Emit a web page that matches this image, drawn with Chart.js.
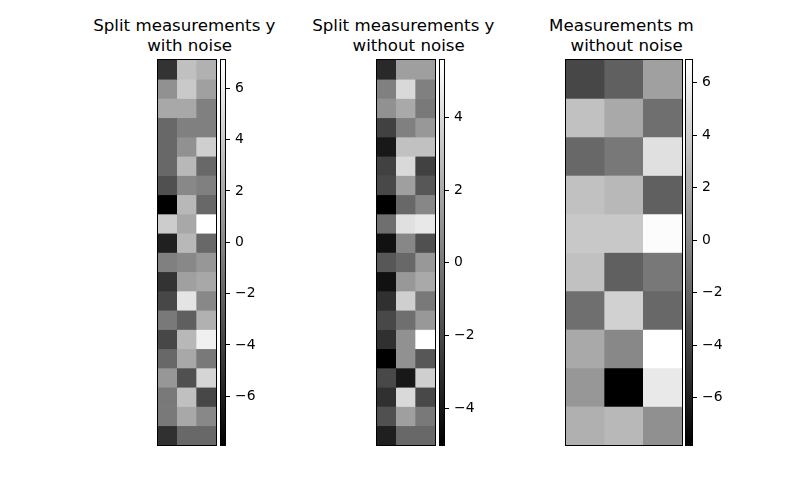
<!DOCTYPE html>
<html>
<head>
<meta charset="utf-8">
<script src="https://cdn.jsdelivr.net/npm/chart.js"></script>
<style>
body { margin: 0; background: #fff; }
#fig { position: relative; width: 800px; height: 500px; overflow: hidden; }
.box { position: absolute; }
.title { position: absolute; width: 300px; top: 16px; text-align: center; white-space: pre;
  font-family: 'DejaVu Sans'; font-size: 16.67px; line-height: 20px; color: #000; }
</style>
</head>
<body>
<div id="fig"></div>
<script>
// values, one row per line (top to bottom)
const yWithNoise = [
  [-4.9, 3.4, 2.5], [0.6, 3.9, 1.5], [2.0, 2.0, -0.4], [-1.8, -0.4, -0.4],
  [-1.8, 0.6, 4.3], [-1.8, 2.9, -1.8], [-3.2, 0.1, -0.4], [-7.9, 2.9, -1.8],
  [4.1, 2.0, 7.1], [-6.0, 2.9, -1.8], [-0.4, 0.1, 1.0], [-4.9, 1.5, 2.0],
  [-3.7, 5.5, 0.1], [-0.8, -2.3, 2.5], [-3.7, 2.9, 6.2], [-1.8, 2.0, -0.8],
  [1.0, -3.2, 4.6], [-0.8, 3.4, -3.7], [-0.8, 2.0, 0.1], [-5.1, -1.8, -1.8]
];
const yWithoutNoise = [
  [-3.3, 1.6, 1.6], [0.3, 4.0, 0.3], [1.0, 2.0, 0.0], [-2.3, 0.3, 1.3],
  [-4.0, 3.0, 3.0], [-2.3, 4.0, -2.3], [-2.0, 1.6, -1.4], [-5.0, -0.7, 0.6],
  [-0.4, 4.3, 4.6], [-4.3, 0.6, -1.7], [-1.4, -0.7, 1.3], [-4.3, 1.3, 2.0],
  [-3.0, 3.6, 0.0], [-2.0, -0.4, 1.3], [-3.0, 1.0, 5.57], [-5.0, 1.0, -1.4],
  [-2.0, -4.0, 3.6], [-3.0, 4.0, -2.0], [-1.7, 1.6, 0.0], [-3.7, -0.7, -0.7]
];
const mWithoutNoise = [
  [-3.7, -2.3, 1.4], [3.3, 1.9, -1.4], [-1.8, -0.9, 5.1], [3.3, 2.8, -2.3],
  [3.7, 3.7, 6.7], [3.3, -2.3, -0.9], [-1.4, 4.2, -1.8], [1.9, 0.0, 6.87],
  [0.9, -7.8, 5.6], [2.3, 2.8, 0.5]
];
const ticksA = [-6, -4, -2, 0, 2, 4, 6];
const ticksB = [-4, -2, 0, 2, 4];
const ticksC = [-6, -4, -2, 0, 2, 4, 6];

const panels = [
  { rows: yWithNoise, ticks: ticksA, title: 'Split measurements y \n with noise', x0: 158, x1: 216, c0: 221, c1: 225 },
  { rows: yWithoutNoise, ticks: ticksB, title: 'Split measurements y \n without noise', x0: 377, x1: 435, c0: 440, c1: 444 },
  { rows: mWithoutNoise, ticks: ticksC, title: 'Measurements m \n without noise', x0: 566, x1: 682, c0: 686, c1: 692 }
];
const axTop = 60, axBottom = 445;

const outline = {
  id: 'outline',
  afterDraw(chart) {
    const a = chart.chartArea, c = chart.ctx;
    c.save();
    c.strokeStyle = '#000';
    c.lineWidth = 1;
    c.strokeRect(Math.round(a.left) - 0.5, Math.round(a.top) - 0.5,
      Math.round(a.right - a.left) + 1, Math.round(a.bottom - a.top) + 1);
    c.restore();
  }
};

const fig = document.getElementById('fig');
function makeBox(left, tp, w, h) {
  const d = document.createElement('div');
  d.className = 'box';
  d.style.left = left + 'px'; d.style.top = tp + 'px';
  d.style.width = w + 'px'; d.style.height = h + 'px';
  const cv = document.createElement('canvas');
  d.appendChild(cv);
  fig.appendChild(d);
  return cv;
}

function heatmap(el, rows) {
  const flat = rows.flat();
  const lo = Math.min(...flat), hi = Math.max(...flat);
  const gray = v => {
    const g = Math.round((v - lo) / (hi - lo) * 255);
    return `rgb(${g},${g},${g})`;
  };
  new Chart(el, {
    type: 'bar',
    data: {
      labels: rows[0].map((_, j) => j),
      datasets: rows.map(r => ({
        data: r.map(() => 1),
        backgroundColor: r.map(gray),
        borderWidth: 0,
        barPercentage: 1,
        categoryPercentage: 1
      }))
    },
    options: {
      responsive: true,
      maintainAspectRatio: false,
      animation: false,
      events: [],
      layout: { padding: 2 },
      plugins: { legend: { display: false }, tooltip: { enabled: false } },
      scales: {
        x: { display: false, stacked: true },
        y: { display: false, stacked: true, min: 0, max: rows.length, reverse: true }
      }
    },
    plugins: [outline]
  });
}

function colorbar(el, rows, tickVals) {
  const flat = rows.flat();
  const lo = Math.min(...flat), hi = Math.max(...flat);
  new Chart(el, {
    type: 'bar',
    data: {
      labels: [''],
      datasets: [{
        data: [[lo, hi]],
        backgroundColor: ctx => {
          const a = ctx.chart.chartArea;
          if (!a) return '#808080';
          const g = ctx.chart.ctx.createLinearGradient(0, a.bottom, 0, a.top);
          g.addColorStop(0, '#000');
          g.addColorStop(1, '#fff');
          return g;
        },
        borderWidth: 0,
        barPercentage: 1,
        categoryPercentage: 1
      }]
    },
    options: {
      responsive: true,
      maintainAspectRatio: false,
      animation: false,
      events: [],
      layout: { padding: { left: 2, top: 2, bottom: 2, right: 0 } },
      plugins: { legend: { display: false }, tooltip: { enabled: false } },
      scales: {
        x: { display: false },
        y: {
          position: 'right',
          min: lo,
          max: hi,
          afterFit: s => { s.width = 40; s.paddingTop = 0; s.paddingBottom = 0; },
          afterBuildTicks: s => { s.ticks = tickVals.map(v => ({ value: v })); },
          grid: { drawOnChartArea: false, drawTicks: true, tickLength: 5, color: '#000', lineWidth: 1 },
          border: { display: false },
          ticks: {
            color: '#000',
            padding: 5,
            autoSkip: false,
            font: { family: 'DejaVu Sans', size: 13.9 },
            callback: v => v < 0 ? '\u2212' + Math.abs(v) : String(v)
          }
        }
      }
    },
    plugins: [outline]
  });
}

for (const p of panels) {
  heatmap(makeBox(p.x0 - 2, axTop - 2, p.x1 - p.x0 + 4, axBottom - axTop + 4), p.rows);
  colorbar(makeBox(p.c0 - 2, axTop - 2, p.c1 - p.c0 + 2 + 40, axBottom - axTop + 4), p.rows, p.ticks);
  const t = document.createElement('div');
  t.className = 'title';
  t.style.left = ((p.x0 + p.x1) / 2 - 150) + 'px';
  t.textContent = p.title;
  fig.appendChild(t);
}
</script>
</body>
</html>
